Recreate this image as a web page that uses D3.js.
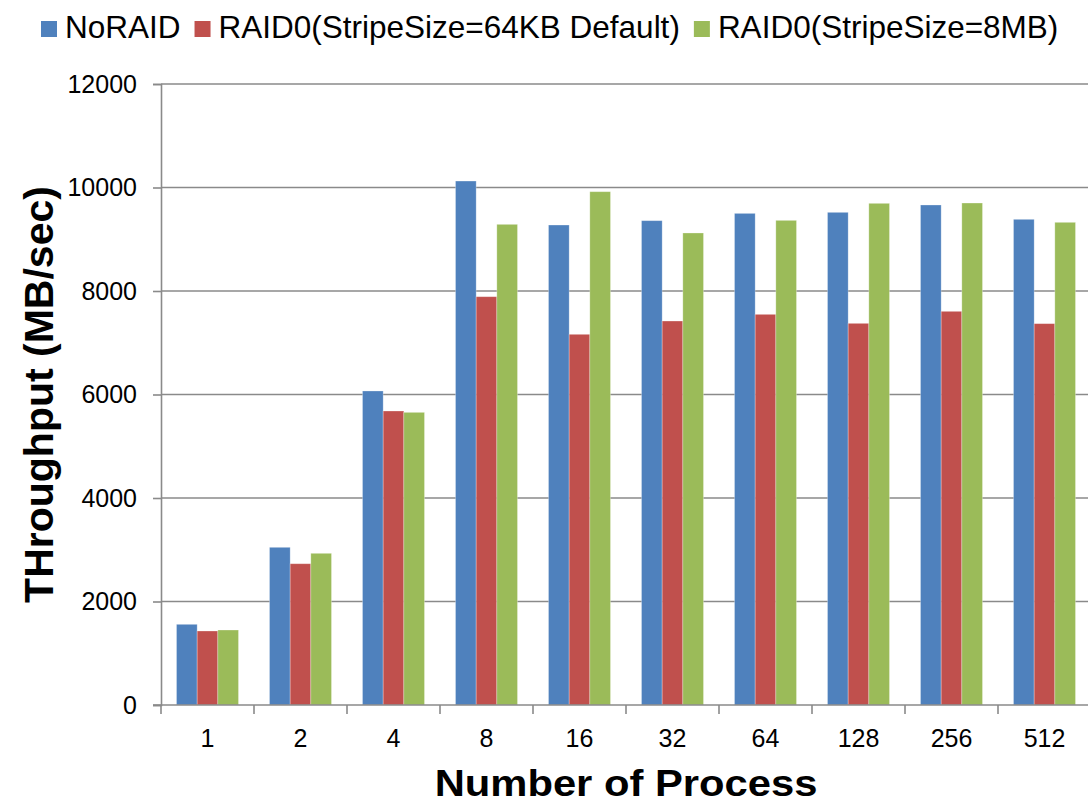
<!DOCTYPE html>
<html>
<head>
<meta charset="utf-8">
<script src="https://cdn.jsdelivr.net/npm/d3@7"></script>
<style>
  body { margin: 0; background: #fff; }
  svg { display: block; font-family: Arial, "Liberation Sans", sans-serif; }
</style>
</head>
<body>
<div id="chart"></div>
<script>
var categories = ["1", "2", "4", "8", "16", "32", "64", "128", "256", "512"]
var seriesNames = ["NoRAID", "RAID0(StripeSize=64KB Default)", "RAID0(StripeSize=8MB)"]
var seriesColors = ["#4F81BD", "#C0504D", "#9BBB59"]
var noRaid = [1559, 3047, 6068, 10125, 9275, 9359, 9500, 9520, 9662, 9385]
var raid64k = [1430, 2730, 5681, 7890, 7163, 7420, 7549, 7375, 7607, 7369]
var raid8m = [1449, 2931, 5655, 9288, 9919, 9121, 9365, 9694, 9700, 9327]
var yTicks = [0, 2000, 4000, 6000, 8000, 10000, 12000]

var width = 1088, height = 803
var plotLeft = 161, plotRight = 1091, plotTop = 84, plotBottom = 705
var gridColor = "#8a8a8a"
var fontFam = "Arial, 'Liberation Sans', sans-serif"

var svg = d3.select("#chart").append("svg").attr("width", width).attr("height", height)

var xs = d3.scaleBand().domain(categories).range([plotLeft, plotRight]).padding(0)
var xin = d3.scaleBand().domain(seriesNames).range([0, xs.bandwidth()]).paddingInner(0).paddingOuter(0.75)
var ys = d3.scaleLinear().domain([0, 12000]).range([plotBottom, plotTop])

// gridlines
svg.append("g")
  .selectAll("line")
  .data(yTicks.filter(d => d > 0))
  .enter()
  .append("line")
  .attr("x1", plotLeft).attr("x2", width)
  .attr("y1", d => ys(d)).attr("y2", d => ys(d))
  .attr("stroke", gridColor).attr("stroke-width", 1.6)

// bars
var table = categories.map(function (c, i) {
  return { cat: c, vals: [noRaid[i], raid64k[i], raid8m[i]] }
})
var groups = svg.append("g")
  .selectAll("g")
  .data(table)
  .enter()
  .append("g")
  .attr("transform", d => "translate(" + xs(d.cat) + ",0)")
groups.selectAll("rect")
  .data(d => d.vals.map((v, j) => ({ name: seriesNames[j], v: v, j: j })))
  .enter()
  .append("rect")
  .attr("x", d => xin(d.name))
  .attr("width", xin.bandwidth())
  .attr("y", d => ys(d.v))
  .attr("height", d => plotBottom - ys(d.v))
  .attr("fill", d => seriesColors[d.j])
  .attr("stroke", "rgba(255,255,255,0.35)")
  .attr("stroke-width", 0.8)

// y axis
var yAxis = svg.append("g")
  .attr("transform", "translate(" + plotLeft + ",0)")
  .call(d3.axisLeft(ys).tickValues(yTicks).tickFormat(d3.format("d")).tickSize(8).tickPadding(16))
yAxis.select(".domain").attr("stroke", gridColor).attr("stroke-width", 1.6)
yAxis.selectAll(".tick line").attr("stroke", gridColor).attr("stroke-width", 1.6)
yAxis.selectAll("text").attr("font-size", 25).attr("fill", "#000").attr("font-family", fontFam)

// x axis: labels centred, ticks between categories
var xAxis = svg.append("g")
  .attr("transform", "translate(0," + plotBottom + ")")
  .call(d3.axisBottom(xs).tickSize(0).tickPadding(24))
xAxis.select(".domain").remove()
xAxis.selectAll("text").attr("font-size", 25).attr("fill", "#000").attr("font-family", fontFam)
svg.append("line")
  .attr("x1", plotLeft - 8).attr("x2", width)
  .attr("y1", plotBottom).attr("y2", plotBottom)
  .attr("stroke", gridColor).attr("stroke-width", 1.6)
svg.append("g")
  .selectAll("line")
  .data(categories)
  .enter()
  .append("line")
  .attr("x1", d => xs(d)).attr("x2", d => xs(d))
  .attr("y1", plotBottom).attr("y2", plotBottom + 9)
  .attr("stroke", gridColor).attr("stroke-width", 1.6)

// axis titles (the original is a bit stretched sideways)
svg.append("text")
  .attr("transform", "translate(" + ((plotLeft + plotRight) / 2) + ",796) scale(1.16,1)")
  .attr("text-anchor", "middle")
  .attr("font-size", 36).attr("font-weight", "bold")
  .text("Number of Process")
svg.append("text")
  .attr("transform", "translate(53," + ((plotTop + plotBottom) / 2) + ") rotate(-90)")
  .attr("text-anchor", "middle")
  .attr("font-size", 41).attr("font-weight", "bold")
  .text("THroughput (MB/sec)")

// legend
var legend = svg.append("g")
var lx = 41
seriesNames.forEach(function (name, i) {
  legend.append("rect")
    .attr("x", lx).attr("y", 21).attr("width", 16).attr("height", 16)
    .attr("fill", seriesColors[i])
  var t = legend.append("text")
    .attr("x", lx + 24).attr("y", 37.5)
    .attr("font-size", 31.5)
    .text(name)
  lx = lx + 24 + t.node().getComputedTextLength() + 14
})
</script>
</body>
</html>
